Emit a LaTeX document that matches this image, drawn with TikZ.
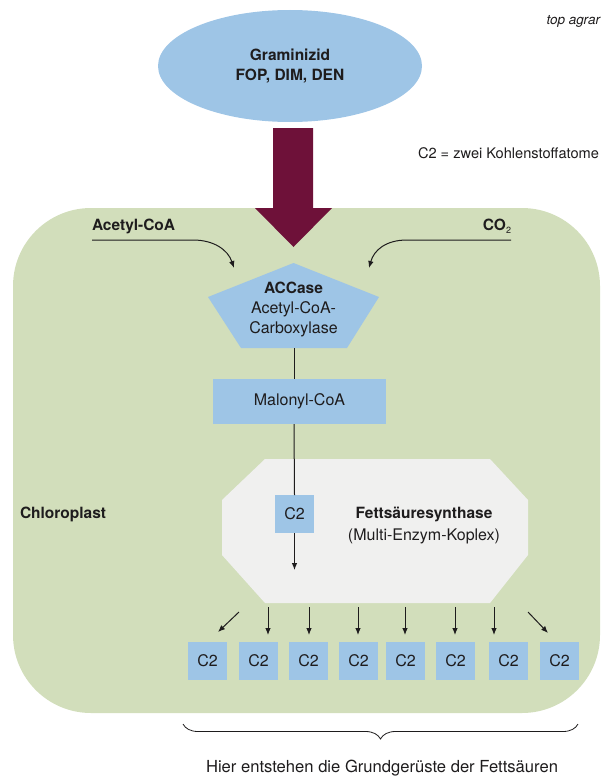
\documentclass[tikz,border=0pt]{standalone}
\usepackage{fontspec}
\setmainfont{TeX Gyre Heros}
\usetikzlibrary{arrows.meta,decorations.pathreplacing,shapes.geometric}
\definecolor{chloro}{RGB}{210,222,187}
\definecolor{lblue}{RGB}{158,197,230}
\definecolor{wine}{RGB}{110,17,57}
\definecolor{fasgray}{RGB}{240,240,239}
\definecolor{ink}{RGB}{30,28,29}
\newcommand\regsize{\fontsize{16}{20}\selectfont}
\newcommand\boldsize{\fontsize{15.5}{20}\selectfont\bfseries}
\begin{document}
\begin{tikzpicture}[x=1pt,y=-1pt,
  every node/.style={inner sep=0pt, outer sep=0pt, text=ink},
  reg/.style={font=\regsize},
  bld/.style={font=\boldsize},
  bluebox/.style={fill=lblue, font=\regsize},
  c2box/.style={bluebox, minimum width=39pt, minimum height=38pt},
  conn/.style={draw=ink, line width=1pt},
  arr/.style={conn, -{Latex[length=7pt,width=5.6pt]}},
]
\useasboundingbox (0,0) rectangle (601,776);
% chloroplast
\fill[chloro, rounded corners=78pt] (13,208) rectangle (600,713);
\node[bld, anchor=base west] (chloro) at (20,518.5) {Chloroplast};

% herbicide
\node[ellipse, fill=lblue, minimum width=264pt, minimum height=112pt,
      align=center, font=\boldsize] (herb) at (290,66) {Graminizid\\FOP, DIM, DEN};
\fill[wine] (273,128) -- (313,128) -- (313,208) -- (332,208) -- (293.5,247)
  -- (255,208) -- (273,208) -- cycle;

% annotations
\node[anchor=base east, font=\fontsize{13.5}{16}\selectfont\itshape] (src) at (600,25) {top agrar};
\node[anchor=base west, font=\fontsize{14.6}{18}\selectfont] (legend) at (418,158.5) {C2 = zwei Kohlenstoffatome};

% substrates
\node[bld, anchor=base west] (acetyl) at (92,230.5) {Acetyl-CoA};
\node[bld, anchor=base east] (co2) at (511,230.5) {CO{\fontsize{9}{10}\selectfont\mdseries\raisebox{-2.5pt}{2}}};
\coordinate (acl) at (92,240);
\coordinate (acm) at (193,240);
\coordinate (ace) at (234,268);
\coordinate (col) at (511,240);
\coordinate (com) at (407,240);
\coordinate (coe) at (369,268);
\draw[arr] (acl) -- (acm) .. controls (214,240) and (228,250) .. (ace);
\draw[arr] (col) -- (com) .. controls (386,240) and (374,250) .. (coe);

% ACCase pentagon
\fill[lblue] (293.5,263) -- (379,297) -- (347,348) -- (241,348) -- (208,297) -- cycle;
\node[align=center, font=\regsize] (acc) at (293.5,309.6)
  {{\boldsize ACCase}\\Acetyl-CoA-\\Carboxylase};
\coordinate (accb) at (294,348);

% Malonyl-CoA
\node[bluebox, minimum width=173pt, minimum height=45pt] (mal) at (299.5,401.5) {Malonyl-CoA};
\draw[conn] (accb) -- (accb |- mal.north);

% fatty acid synthase
\fill[fasgray] (265,459) -- (490,459) -- (528,500) -- (528,555) -- (490,603)
  -- (265,603) -- (222,555) -- (222,500) -- cycle;
\node[align=center, font=\regsize] (fas) at (424,525.5)
  {{\boldsize Fettsäuresynthase}\\[2pt](Multi-Enzym-Koplex)};
\node[c2box] (c2in) at (294.5,514) {C2};
\coordinate (fasend) at (294.5,570);
\draw[conn] (accb |- mal.south) -- (c2in.north);
\draw[arr] (c2in.south) -- (fasend);

% C2 products
\foreach \x [count=\i] in {207.5,258.5,308.5,358.5,405.5,455.5,508.5,559.5}
  \node[c2box] (r\i) at (\x,661) {C2};
\foreach \x/\i in {268/2,309/3,358/4,405/5,455/6,494/7} {
  \coordinate (s\i) at (\x,607);
  \draw[arr, shorten >=7pt] (s\i) -- (s\i |- r\i.north);
}
\coordinate (s1) at (239,612);
\coordinate (e1) at (218,632);
\coordinate (s8) at (528,612);
\coordinate (e8) at (548,633);
\draw[arr] (s1) -- (e1);
\draw[arr] (s8) -- (e8);

% brace
\coordinate (bl) at (183,724);
\coordinate (br) at (578,724);
\draw[draw=ink, line width=0.8pt, decorate, decoration={brace, mirror, amplitude=15pt}] (bl) -- (br);
\node[anchor=base, font=\fontsize{16.6}{20}\selectfont] (note) at (382,772)
  {Hier entstehen die Grundgerüste der Fettsäuren};
\end{tikzpicture}
\end{document}
